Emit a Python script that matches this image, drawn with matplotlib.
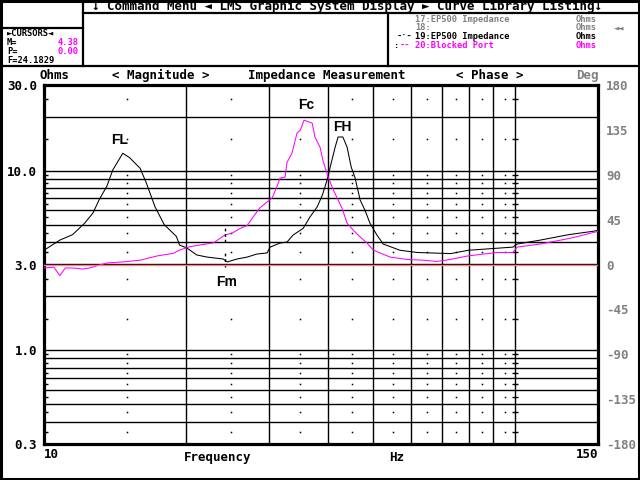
import numpy as np
import matplotlib.pyplot as plt
from matplotlib.ticker import NullLocator
from matplotlib.patches import Rectangle

plt.rcParams['font.family'] = ['DejaVu Sans Mono', 'DejaVu Sans']
plt.rcParams['font.weight'] = 'bold'

# --- data ---
# curve 19: EP500 impedance (Ohms)
ep500_f = [10.0, 10.8, 11.5, 12.2, 12.7, 13.1, 13.6, 14.0, 14.7, 15.2, 16.0, 16.5,
           17.2, 18.0, 19.1, 19.4, 20.1, 21.1, 22.2, 24.0, 24.5, 25.7, 27.0, 28.3,
           29.75, 30.2, 31.7, 32.8, 33.8, 35.5, 36.7, 38.0, 39.0, 39.9, 40.7, 41.5,
           42.1, 43.1, 44.0, 44.9, 45.7, 46.9, 48.0, 49.2, 50.9, 52.5, 57.0, 62.0,
           73.0, 79.5, 99.0, 101.0, 113.0, 130.0, 147.0, 150.0]
ep500_z = [3.6, 4.1, 4.4, 5.1, 5.8, 6.9, 8.2, 10.1, 12.5, 11.8, 10.3, 8.5,
           6.3, 5.0, 4.3, 3.85, 3.71, 3.39, 3.30, 3.22, 3.10, 3.22, 3.30, 3.43,
           3.48, 3.75, 3.95, 4.0, 4.38, 4.77, 5.52, 6.27, 7.32, 8.87, 11.0, 13.5,
           15.4, 15.4, 13.5, 10.45, 9.21, 6.86, 6.03, 5.10, 4.38, 3.9, 3.6, 3.5,
           3.45, 3.6, 3.75, 3.9, 4.1, 4.4, 4.6, 4.65]

# curve 20: blocked port (Ohms)
port_f = [10.0, 10.5, 10.8, 11.1, 11.5, 12.1, 12.5, 13.6, 14.7, 16.0, 17.4, 18.8,
          19.4, 20.4, 21.4, 22.9, 24.2, 25.1, 26.1, 27.0, 27.8, 28.7, 29.75, 30.5,
          31.2, 31.7, 32.5, 32.8, 33.6, 34.45, 35.0, 35.65, 37.1, 37.6, 38.55, 39.1,
          40.1, 40.9, 41.9, 42.9, 44.0, 45.3, 46.9, 48.5, 50.0, 51.7, 54.3, 59.0,
          63.8, 68.3, 72.8, 79.5, 91.6, 99.0, 101.0, 113.0, 131.0, 148.0, 150.0]
port_z = [2.87, 2.9, 2.6, 2.87, 2.87, 2.83, 2.87, 3.06, 3.1, 3.17, 3.35, 3.46,
          3.61, 3.77, 3.85, 3.96, 4.38, 4.49, 4.77, 4.95, 5.52, 6.19, 6.69, 7.04,
          8.1, 9.09, 9.21, 11.1, 12.5, 16.2, 16.8, 19.1, 18.4, 15.4, 13.5, 11.4,
          9.21, 8.1, 7.04, 6.19, 5.10, 4.67, 4.27, 3.95, 3.61, 3.48, 3.3, 3.2,
          3.17, 3.12, 3.2, 3.35, 3.5, 3.5, 3.75, 3.9, 4.2, 4.55, 4.6]

cursor_f = 24.1829
cursor_m = 4.38
cursor_p = 0.00

mag_ticks = [0.3, 1, 3, 10, 30]
mag_labels = ['0.3', '1.0', '3.0', '10.0', '30.0']
phase_ticks = [-180, -135, -90, -45, 0, 45, 90, 135, 180]
freq_grid = [20, 30, 40, 50, 60, 70, 80, 90, 100]
freq_dots = [15, 25, 35, 45, 55, 65, 75, 85, 95]
mag_grid = [0.4, 0.5, 0.6, 0.7, 0.8, 0.9, 1, 2, 3, 4, 5, 6, 7, 8, 9, 10, 20]
mag_dots = [0.35, 0.45, 0.55, 0.65, 0.75, 0.85, 0.95, 1.5, 2.5, 3.5, 4.5, 5.5,
            6.5, 7.5, 8.5, 9.5, 15, 25]

MAG = '#ff00ff'
GRAY = '#808080'
RED = '#ff8080'

fig = plt.figure(figsize=(6.4, 4.8), dpi=100)

# screen frame / header boxes, in pixel coords
bg = fig.add_axes([0, 0, 1, 1])
bg.set_xlim(0, 640)
bg.set_ylim(480, 0)
bg.axis('off')
bg.add_patch(Rectangle((1, 1), 638, 478, fill=False, lw=2.2, ec='k', clip_on=False))
for xs, ys in [([83, 83], [0, 66]), ([0, 83], [28, 28]), ([83, 640], [13, 13]),
               ([0, 640], [66, 66]), ([388, 388], [13, 66])]:
    bg.plot(xs, ys, color='k', lw=1.6, clip_on=False)

fs = 9
bg.text(92, 6.5, '\u2193 Command Menu \u25c4 LMS Graphic System Display \u25ba Curve Library Listing\u2193',
        fontsize=fs, va='center', ha='left')

# cursor readout
fs2 = 6.3
rows = [34, 42.8, 51.6, 60.4]
bg.text(7, rows[0], '\u25baCURSORS\u25c4', fontsize=fs2, va='center')
bg.text(7, rows[1], 'M=', fontsize=fs2, va='center')
bg.text(79, rows[1], f'{cursor_m:.2f}', fontsize=fs2, va='center', ha='right', color=MAG)
bg.text(7, rows[2], 'P=', fontsize=fs2, va='center')
bg.text(79, rows[2], f'{cursor_p:.2f}', fontsize=fs2, va='center', ha='right', color=MAG)
bg.text(7, rows[3], f'F={cursor_f:.4f}', fontsize=fs2, va='center')

# curve library listing
lib = [19.0, 27.8, 36.6, 45.4]
bg.text(415, lib[0], '17:EP500 Impedance', fontsize=fs2, va='center', color=GRAY)
bg.text(576, lib[0], 'Ohms', fontsize=fs2, va='center', color=GRAY)
bg.text(415, lib[1], '18:', fontsize=fs2, va='center', color=GRAY)
bg.text(576, lib[1], 'Ohms', fontsize=fs2, va='center', color=GRAY)
bg.text(614, lib[1], '\u25c4\u25c4', fontsize=fs2, va='center', color=GRAY)
bg.text(397, lib[2], '-\u00b7-', fontsize=fs2, va='center')
bg.text(415, lib[2], '19:EP500 Impedance', fontsize=fs2, va='center')
bg.text(576, lib[2], 'Ohms', fontsize=fs2, va='center')
bg.text(393, lib[3], ':', fontsize=fs2, va='center')
bg.text(400, lib[3], '--', fontsize=fs2, va='center', color=MAG)
bg.text(415, lib[3], '20:Blocked Port', fontsize=fs2, va='center', color=MAG)
bg.text(576, lib[3], 'Ohms', fontsize=fs2, va='center', color=MAG)

# axis header row
bg.text(40, 75.5, 'Ohms', fontsize=fs, va='center')
bg.text(112, 75.5, '< Magnitude >', fontsize=fs, va='center')
bg.text(248, 75.5, 'Impedance Measurement', fontsize=fs, va='center')
bg.text(456, 75.5, '< Phase >', fontsize=fs, va='center')
bg.text(576, 75.5, 'Deg', fontsize=fs, va='center', color=GRAY)

# --- main plot ---
ax = fig.add_axes([44 / 640, 36 / 480, 554 / 640, 359 / 480])
ax.set_xscale('log')
ax.set_yscale('log')
ax.set_xlim(10, 150)
ax.set_ylim(0.3, 30)

ax.set_xticks([10, 150], ['10', '150'])
ax.xaxis.set_minor_locator(NullLocator())
for lbl, ha in zip(ax.get_xticklabels(), ['left', 'right']):
    lbl.set_ha(ha)
ax.tick_params(axis='x', length=0, pad=3, labelsize=fs)
ax.text(23.4, -0.02, 'Frequency', transform=ax.get_xaxis_transform(),
        ha='center', va='top', fontsize=fs)
ax.text(56, -0.02, 'Hz', transform=ax.get_xaxis_transform(),
        ha='center', va='top', fontsize=fs)

ax.set_yticks(mag_ticks, mag_labels)
ax.set_yticks(mag_dots, minor=True)
ax.set_yticklabels([], minor=True)
ax.tick_params(axis='y', which='major', length=0, pad=5, labelsize=fs)
ax.tick_params(axis='y', which='minor', direction='in', length=3, width=1)

for sp in ax.spines.values():
    sp.set_linewidth(2.3)

for v in mag_grid:
    ax.axhline(v, color='k', lw=1.0, zorder=1)
for v in freq_grid:
    ax.axvline(v, color='k', lw=1.0, zorder=1)

dx, dy = np.meshgrid(freq_dots, mag_dots)
ax.plot(dx.ravel(), dy.ravel(), ls='none', marker='s', ms=1.1, mew=0, color='k', zorder=1)
ax.plot([100] * len(mag_dots), mag_dots, ls='none', marker='_', ms=5, mew=1, color='k', zorder=1)

ax.plot(ep500_f, ep500_z, color='k', lw=0.75, zorder=3)
ax.plot(port_f, port_z, color=MAG, lw=0.75, zorder=3)

# cursor markers
for f, z in [(ep500_f, ep500_z), (port_f, port_z)]:
    zc = 10 ** np.interp(np.log10(cursor_f), np.log10(f), np.log10(z))
    ax.plot([cursor_f, cursor_f], [zc / 1.09, zc * 1.09], color='k', lw=1,
            ls=(0, (2, 2)), zorder=4)

# resonance labels
lab = dict(textcoords='offset pixels', ha='center', va='center', fontsize=10,
           fontweight='bold', family='Liberation Sans')
i_fl = int(np.argmax(ep500_z[:15]))
i_fh = 25 + int(np.argmax(ep500_z[25:]))
i_fc = int(np.argmax(port_z))
i_fm = 15 + int(np.argmin(ep500_z[15:25]))
ax.annotate('FL', (ep500_f[i_fl], ep500_z[i_fl]), xytext=(-3, 13), **lab)
ax.annotate('FH', (ep500_f[i_fh], ep500_z[i_fh]), xytext=(4, 10), **lab)
ax.annotate('Fc', (port_f[i_fc], port_z[i_fc]), xytext=(2, 15), **lab)
ax.annotate('Fm', (ep500_f[i_fm], ep500_z[i_fm]), xytext=(-1, -20), **lab)

# phase axis
ax2 = ax.twinx()
ax2.set_ylim(-180, 180)
ax2.set_yticks(phase_ticks, [str(t) for t in phase_ticks])
ax2.tick_params(axis='y', length=0, pad=6, labelsize=fs, labelcolor=GRAY)
for sp in ax2.spines.values():
    sp.set_visible(False)
ax2.axhline(0, color=RED, lw=1.0)

fig.savefig('out.png', dpi=100)
